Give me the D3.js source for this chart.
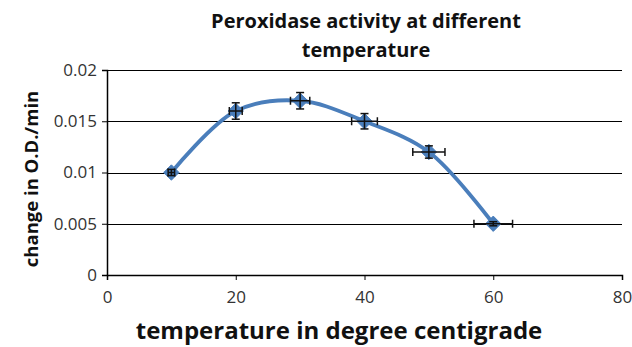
<!DOCTYPE html>
<html>
<head>
<meta charset="utf-8">
<script src="https://cdn.jsdelivr.net/npm/d3@7"></script>
<style>
  body { margin: 0; background: #fff; }
  svg { font-family: "Open Sans", Lato, sans-serif; }
  .axis text { font-size: 17px; font-family: "Open Sans", sans-serif; fill: #333; }
</style>
</head>
<body>
<div id="chart"></div>
<script>
// Data
const temperatures = [10, 20, 30, 40, 50, 60];
const activity = [0.010, 0.016, 0.017, 0.015, 0.012, 0.005];
const yErrors = [0.0003, 0.0008, 0.0008, 0.00075, 0.0006, 0.0002];
const xErrors = [0.5, 1, 1.5, 2, 2.5, 3];
const xTicks = [0, 20, 40, 60, 80];
const yTicks = [0, 0.005, 0.01, 0.015, 0.02];

const width = 632, height = 347;
const margin = { top: 70, right: 10, bottom: 72, left: 107 };
const innerWidth = 622 - margin.left;
const innerHeight = 275 - margin.top;

const svg = d3.select('#chart').append('svg')
  .attr('width', width)
  .attr('height', height);

const g = svg.append('g')
  .attr('transform', `translate(${margin.left}, ${margin.top})`);

const x = d3.scaleLinear().domain([0, 80]).range([0, innerWidth]);
const y = d3.scaleLinear().domain([0, 0.02]).range([innerHeight, 0]);

// Gridlines
g.append('g')
  .selectAll('line')
  .data(yTicks.filter(d => d > 0))
  .join('line')
  .attr('x1', 0)
  .attr('x2', innerWidth)
  .attr('y1', d => Math.round(y(d)) + 0.5)
  .attr('y2', d => Math.round(y(d)) + 0.5)
  .attr('stroke', '#000')
  .attr('stroke-width', 1);

// Axes
const yAxis = g.append('g')
  .attr('class', 'axis')
  .call(d3.axisLeft(y).tickValues(yTicks).tickSize(5).tickPadding(5)
    .tickFormat(d => d === 0 ? '0' : String(+d.toFixed(3))));

const xAxis = g.append('g')
  .attr('class', 'axis')
  .attr('transform', `translate(0, ${innerHeight})`)
  .call(d3.axisBottom(x).tickValues(xTicks).tickSize(5).tickPadding(11));

[xAxis, yAxis].forEach(ax => {
  ax.attr('font-size', 17).attr('font-family', '"Open Sans", sans-serif');
  ax.select('.domain').attr('stroke', '#000').attr('stroke-width', 1.5);
  ax.selectAll('.tick line').attr('stroke', '#000');
  ax.selectAll('text').attr('fill', '#333');
});

const points = temperatures.map((t, i) => ({
  t, v: activity[i], ex: xErrors[i], ey: yErrors[i]
}));

// Smoothed line
const line = d3.line()
  .x(d => x(d.t))
  .y(d => y(d.v))
  .curve(d3.curveCatmullRom.alpha(0.5));

g.append('path')
  .datum(points)
  .attr('d', line)
  .attr('fill', 'none')
  .attr('stroke', '#4a7ebb')
  .attr('stroke-width', 3.8)
  .attr('stroke-linecap', 'round');

// Markers
g.append('g')
  .selectAll('path')
  .data(points)
  .join('path')
  .attr('transform', d => `translate(${x(d.t)}, ${y(d.v)})`)
  .attr('d', d3.symbol(d3.symbolDiamond2, 150)())
  .attr('fill', '#4a7ebb')
  .attr('stroke', '#4a7ebb')
  .attr('stroke-width', 1);

// Error bars
const err = g.append('g').attr('stroke', '#111').attr('stroke-width', 1.5);
points.forEach(d => {
  const cx = x(d.t), cy = y(d.v);
  const x0 = x(d.t - d.ex), x1 = x(d.t + d.ex);
  const y0 = y(d.v - d.ey), y1 = y(d.v + d.ey);
  err.append('line').attr('x1', x0).attr('x2', x1).attr('y1', cy).attr('y2', cy);
  err.append('line').attr('x1', x0).attr('x2', x0).attr('y1', cy - 4).attr('y2', cy + 4);
  err.append('line').attr('x1', x1).attr('x2', x1).attr('y1', cy - 4).attr('y2', cy + 4);
  err.append('line').attr('x1', cx).attr('x2', cx).attr('y1', y0).attr('y2', y1);
  err.append('line').attr('x1', cx - 4).attr('x2', cx + 4).attr('y1', y0).attr('y2', y0);
  err.append('line').attr('x1', cx - 4).attr('x2', cx + 4).attr('y1', y1).attr('y2', y1);
});

// Title
const title = svg.append('text')
  .attr('x', 366)
  .attr('text-anchor', 'middle')
  .style('font-size', '20px')
  .style('font-weight', 'bold')
  .style('fill', '#111');
title.append('tspan').attr('x', 366).attr('y', 28).text('Peroxidase activity at different');
title.append('tspan').attr('x', 366).attr('y', 57).text('temperature');

// Axis titles
svg.append('text')
  .attr('transform', 'rotate(-90)')
  .attr('x', -179)
  .attr('y', 38)
  .attr('text-anchor', 'middle')
  .style('font-size', '18.5px')
  .style('font-weight', 'bold')
  .style('fill', '#111')
  .text('change in O.D./min');

svg.append('text')
  .attr('x', 339)
  .attr('y', 339)
  .attr('text-anchor', 'middle')
  .style('font-size', '24px')
  .style('font-weight', 'bold')
  .style('fill', '#111')
  .text('temperature in degree centigrade');
</script>
</body>
</html>
